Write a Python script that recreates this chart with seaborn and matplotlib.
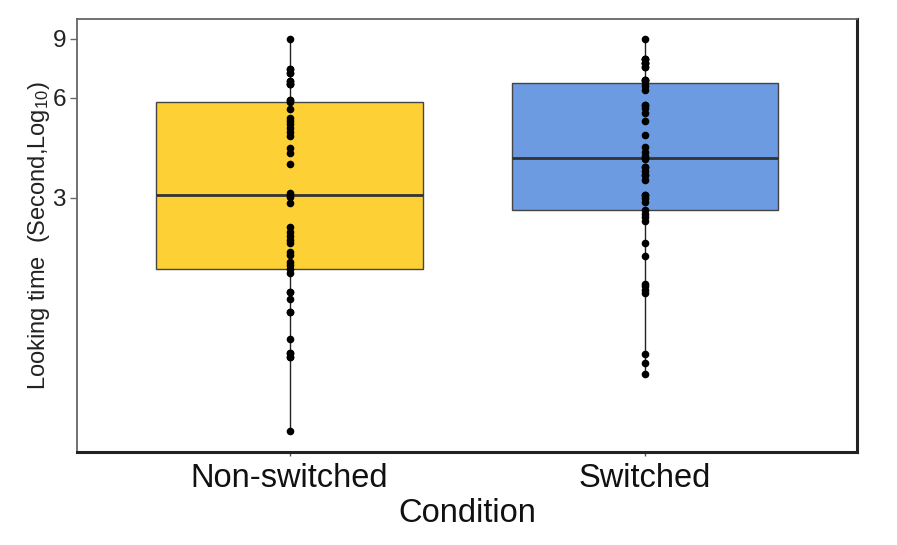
"""
Looking time by condition - box plot with individual points (log y axis)
"""

import numpy as np
import pandas as pd
import matplotlib
matplotlib.use("Agg")
import matplotlib.pyplot as plt
import seaborn as sns

# ============================================================================
# DATA (repeated values sit on top of each other)
# ============================================================================

conditions = ["Non-switched", "Switched"]

non_switched = [
    0.60, 1.00, 1.00, 1.03, 1.03, 1.13, 1.36, 1.36, 1.49, 1.56, 1.56, 1.79,
    1.83,
    1.89, 1.92, 2.02, 2.06, 2.20, 2.25, 2.30, 2.37, 2.45, 2.90, 3.01,
    3.07,
    3.10, 3.79, 4.10, 4.23, 4.60, 4.72, 4.85, 4.99, 5.10, 5.20, 5.54,
    5.84,
    5.90, 5.90, 6.60, 6.60, 6.60, 6.73, 6.73, 7.13, 7.13, 7.30, 7.30, 9.00,
]

switched = [
    0.89, 0.96, 1.02, 1.55, 1.59, 1.63, 1.66, 2.01, 2.19, 2.56, 2.62, 2.68,
    2.75,
    2.92, 2.99, 3.06, 3.06, 3.40, 3.51, 3.51, 3.62, 3.72, 3.72, 3.92,
    3.95,
    4.01, 4.13, 4.27, 4.63, 5.11, 5.38, 5.57, 5.70, 5.70, 6.33, 6.50,
    6.65,
    6.78, 6.78, 6.78, 7.43, 7.43, 7.64, 7.64, 7.64, 7.82, 7.82, 7.82, 9.00,
]

y_ticks = [3, 6, 9]
box_colors = ["#FDD035", "#6C9BE1"]

# ============================================================================
# PLOT
# ============================================================================

df = pd.DataFrame({
    "Condition": [conditions[0]] * len(non_switched) + [conditions[1]] * len(switched),
    "Looking": non_switched + switched,
})

sns.set_theme(style="white")
plt.rcParams["font.family"] = ["Liberation Sans", "DejaVu Sans"]
plt.rcParams["mathtext.default"] = "regular"

fig = plt.figure(figsize=(8.97, 5.45), dpi=100)
ax = fig.add_axes([77 / 897, 1 - 452 / 545, 780 / 897, 433 / 545])

sns.boxplot(data=df, x="Condition", y="Looking", hue="Condition", order=conditions,
            hue_order=conditions, palette=box_colors, saturation=1, width=0.75,
            whis=(0, 100), showcaps=False, fliersize=0, log_scale=True, legend=False,
            ax=ax,
            boxprops=dict(edgecolor="#444444", linewidth=1.0),
            medianprops=dict(color="#333333", linewidth=2.0),
            whiskerprops=dict(color="#222222", linewidth=1.0))
sns.stripplot(data=df, x="Condition", y="Looking", order=conditions, jitter=False,
              color="black", size=5.5, ax=ax)

ax.set_yscale("log")
ax.set_ylim(0.518, 10.33)
ax.set_xlim(-0.598, 1.596)
ax.set_yticks(y_ticks)
ax.set_yticklabels([str(t) for t in y_ticks])
ax.yaxis.set_minor_locator(matplotlib.ticker.NullLocator())

ax.set_xlabel("Condition", fontsize=23.5, color="#111111", labelpad=3)
ax.set_ylabel("Looking time  (Second,Log$_{10}$)", fontsize=17, color="#222222", labelpad=0)
ax.tick_params(axis="x", labelsize=23.5, colors="#111111", length=3, width=1, pad=5,
               bottom=True, color="#555555")
ax.tick_params(axis="y", labelsize=17.5, colors="#222222", length=5, width=1, pad=3,
               left=True, color="#666666")
ax.grid(False)

for side in ["left", "top"]:
    ax.spines[side].set_color("#666666")
    ax.spines[side].set_linewidth(1.3)
for side in ["right", "bottom"]:
    ax.spines[side].set_color("#222222")
    ax.spines[side].set_linewidth(2.2)

plt.savefig("out.png", dpi=100)
